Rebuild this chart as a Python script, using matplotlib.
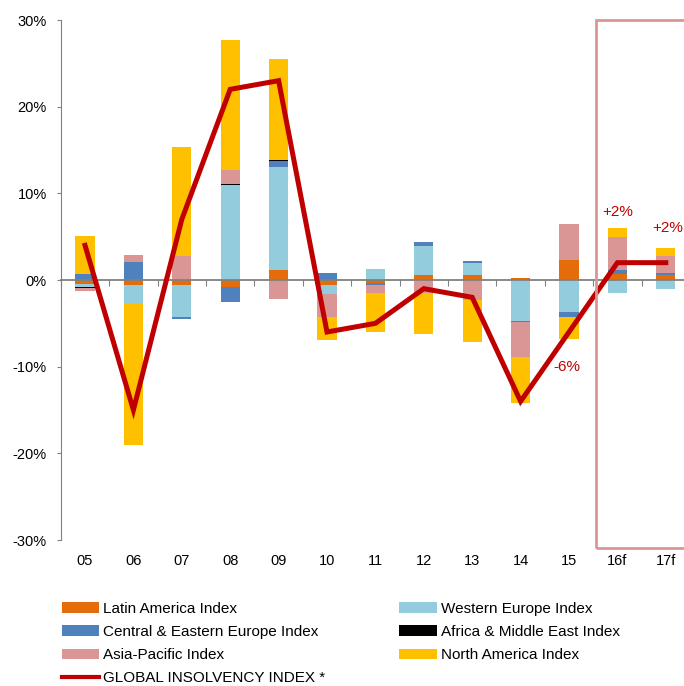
import numpy as np
import matplotlib
matplotlib.use("Agg")
import matplotlib.pyplot as plt
from matplotlib.patches import Rectangle
from matplotlib.lines import Line2D
from matplotlib.ticker import FuncFormatter

plt.rcParams['font.family'] = ['Liberation Sans', 'DejaVu Sans']

# year labels
years = ['05', '06', '07', '08', '09', '10', '11', '12', '13', '14', '15', '16f', '17f']

# regional contributions (pp)
latin_america = [-0.5, -0.6, -0.6, -0.8, 1.1, -0.55, -0.35, 0.6, 0.6, 0.2, 2.3, 0.75, 0.6]
western_europe = [-0.25, -2.0, -3.7, 11.0, 11.9, -1.05, 1.3, 3.3, 1.4, -4.7, -3.7, -1.5, -1.0]
central_eastern_europe = [0.7, 2.1, -0.25, -1.7, 0.75, 0.85, -0.2, 0.5, 0.25, -0.15, -0.6, 0.4, 0.2]
africa_middle_east = [-0.15, 0.0, 0.0, 0.1, 0.1, 0.0, 0.0, 0.0, 0.0, 0.0, 0.05, 0.0, 0.0]
asia_pacific = [-0.4, 0.75, 2.8, 1.55, -2.2, -2.65, -1.0, -1.55, -2.3, -4.0, 4.15, 3.85, 2.0]
north_america = [4.4, -16.4, 12.5, 15.1, 11.7, -2.7, -4.4, -4.7, -4.9, -5.35, -2.5, 1.0, 0.9]

# global index (%)
global_index = [4, -15, 7, 22, 23, -6, -5, -1, -2, -14, -6, 2, 2]

series = [
    ("Latin America Index", latin_america, "#E46C0A"),
    ("Western Europe Index", western_europe, "#93CDDD"),
    ("Central & Eastern Europe Index", central_eastern_europe, "#4F81BD"),
    ("Africa & Middle East Index", africa_middle_east, "#000000"),
    ("Asia-Pacific Index", asia_pacific, "#D99694"),
    ("North America Index", north_america, "#FFC000"),
]

fig = plt.figure(figsize=(6.84, 6.86), dpi=100)
ax = fig.add_axes([60.8 / 684, 1 - 540 / 686, 629.2 / 684, 520 / 686])

x = np.arange(len(years))
pos_base = np.zeros(len(years))
neg_base = np.zeros(len(years))
handles = {}
for name, vals, col in series:
    v = np.array(vals)
    bottom = np.where(v >= 0, pos_base, neg_base)
    b = ax.bar(x, v, width=0.4, bottom=bottom, color=col, edgecolor='none', zorder=2)
    handles[name] = b
    pos_base = pos_base + np.where(v >= 0, v, 0)
    neg_base = neg_base + np.where(v < 0, v, 0)

red = "#C00000"
ln, = ax.plot(x, global_index, color=red, lw=3.6, zorder=4, solid_joinstyle='miter')

ax.set_xlim(-0.5, 12.5)
ax.set_ylim(-30, 30)

# axes styling
for s in ['top', 'right']:
    ax.spines[s].set_visible(False)
ax.spines['left'].set_color('#808080')
ax.spines['bottom'].set_color('#808080')
ax.spines['bottom'].set_position(('data', 0))
ax.spines['bottom'].set_linewidth(1.3)
ax.spines['bottom'].set_zorder(3)

ax.set_yticks(np.arange(-30, 31, 10))
ax.yaxis.set_major_formatter(FuncFormatter(lambda v, p: f"{int(v)}%"))
ax.tick_params(axis='y', length=3, color='#808080', pad=7, labelsize=10.5)

ax.set_xticks(np.arange(-0.5, 12.6, 1))
ax.set_xticklabels([])
ax.tick_params(axis='x', length=4, color='#808080', direction='out')

sec = ax.secondary_xaxis('bottom')
sec.set_xticks(x)
sec.set_xticklabels(years)
sec.tick_params(length=0, pad=10, labelsize=10.5)
sec.spines['bottom'].set_visible(False)

# forecast box
box = Rectangle((10.55, -30.9), 3, 60.9, fill=False, edgecolor='#D99694', lw=2,
                clip_on=False, zorder=5)
ax.add_patch(box)

# annotations
ax.text(11, 7.8, "+2%", color=red, fontsize=11, ha='center', va='center')
ax.text(12.04, 6.0, "+2%", color=red, fontsize=11, ha='center', va='center', clip_on=False)
ax.text(9.95, -10.0, "-6%", color=red, fontsize=11, ha='center', va='center')

line_handle = Line2D([], [], color=red, lw=3)
order = ["Latin America Index", "Central & Eastern Europe Index", "Asia-Pacific Index"]
leg_handles = [handles[n] for n in order] + [line_handle] + \
    [handles[n] for n in ["Western Europe Index", "Africa & Middle East Index", "North America Index"]]
leg_labels = order + ["GLOBAL INSOLVENCY INDEX *", "Western Europe Index",
                      "Africa & Middle East Index", "North America Index"]
fig.legend(leg_handles, leg_labels, ncol=2, loc='upper left',
           bbox_to_anchor=(62 / 684, 1 - 602 / 686), frameon=False, fontsize=11,
           borderpad=0, borderaxespad=0, handlelength=2.45, handletextpad=0.25,
           labelspacing=0.6, columnspacing=4.85)

fig.savefig("out.png", dpi=100)
